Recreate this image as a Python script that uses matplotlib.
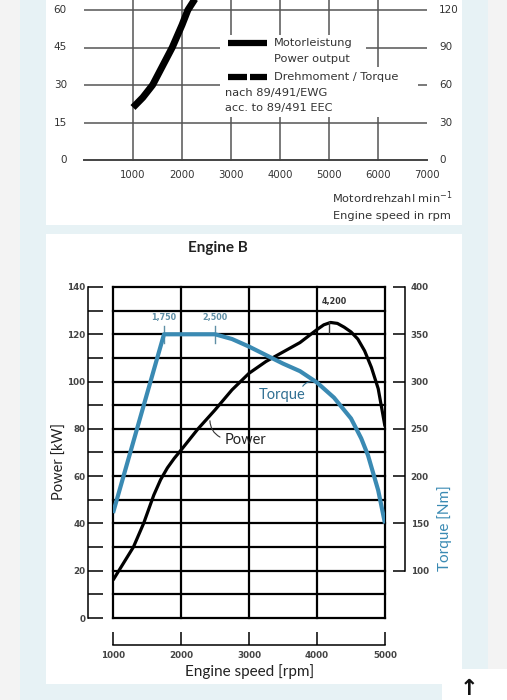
import matplotlib
matplotlib.use("Agg")
import matplotlib.pyplot as plt
from matplotlib.patches import Rectangle, FancyArrowPatch

# ---------------- data ----------------
# top (cropped) chart: power output curve
top_rpm = [1000, 1200, 1400, 1600, 1800, 2000, 2120, 2350]
top_kw = [21, 25, 30, 37.5, 45, 54, 60, 67]
top_xticks = [1000, 2000, 3000, 4000, 5000, 6000, 7000]
top_left_ticks = [0, 15, 30, 45, 60]
top_right_labels = ["0", "30", "60", "90", "120"]

# Engine B
power_rpm = [1000, 1150, 1300, 1450, 1600, 1700, 1800, 1900, 2000, 2250, 2500, 2750,
             3000, 3250, 3500, 3750, 4000, 4100, 4200, 4300, 4400, 4500, 4600,
             4700, 4800, 4900, 5000]
power_kw = [16, 23, 30, 40, 52, 58.5, 63.5, 67.5, 71, 80, 88, 96.5,
            103.5, 108.5, 112.5, 116.5, 122, 124, 125, 124.6, 123, 121, 118,
            113, 106, 97, 81]
torque_rpm = [1000, 1750, 2500, 2750, 3000, 3250, 3500, 3750, 4000, 4250,
              4500, 4650, 4750, 4900, 5000]
torque_nm = [161, 350, 350, 345, 337, 328, 319, 311, 299, 283,
             261, 240, 222, 185, 150]
b_xticks = [1000, 2000, 3000, 4000, 5000]
b_kw_major = [0, 20, 40, 60, 80, 100, 120, 140]
b_kw_minor = [10, 30, 50, 70, 90, 110, 130]
b_nm_ticks = [100, 150, 200, 250, 300, 350, 400]
peak_labels = [(1750, "1,750"), (2500, "2,500")]
power_peak = (4200, "4,200")

W, H = 507, 700
fig = plt.figure(figsize=(W / 100, H / 100), dpi=100)
fig.patch.set_facecolor("#f3f3f3")


def fx(x):
    return x / W


def fy(y):
    return 1 - y / H


def frect(x0, y0, x1, y1, color, z=0):
    fig.add_artist(Rectangle((fx(x0), fy(y1)), fx(x1) - fx(x0), fy(y0) - fy(y1),
                             transform=fig.transFigure, facecolor=color,
                             edgecolor="none", zorder=z))


# backgrounds
frect(20, 0, 488, 700, "#e7f2f5", z=-10)
frect(46, 0, 462, 225, "white", z=-9)
frect(46, 234, 462, 684, "white", z=-9)
frect(442, 669, 507, 700, "white", z=-8)
fig.text(fx(469), fy(689), "\u2191", fontsize=16, fontweight="bold",
         ha="center", va="center", color="#111111")

# ---------------- top chart ----------------
axt = fig.add_axes([fx(84), fy(160), fx(427) - fx(84), fy(0) - fy(160)])
axt.set_facecolor("none")
axt.set_xlim(0, 7000)
axt.set_ylim(0, 64)
for s in axt.spines.values():
    s.set_visible(False)
axt.set_xticks([])
axt.set_yticks([])
gcol = "#555555"
for xv in top_xticks[:-1]:
    axt.plot([xv, xv], [0, 64], color=gcol, lw=1.1, zorder=1, clip_on=False)
for yv in top_left_ticks[1:]:
    axt.plot([0, 7000], [yv, yv], color=gcol, lw=1.1, zorder=1)
axt.plot([0, 7000], [0, 0], color="#444444", lw=1.4, zorder=1, clip_on=False)
for yv, rl in zip(top_left_ticks, top_right_labels):
    axt.text(-350, yv, str(yv), ha="right", va="center", fontsize=7.5, color="#333333")
    axt.text(7250, yv, rl, ha="left", va="center", fontsize=7.5, color="#333333")
for xv in top_xticks:
    axt.text(xv, -6, str(xv), ha="center", va="center", fontsize=7.3, color="#333333")
# legend white areas
axt.add_patch(Rectangle((2776, 37.0), 5755 - 2776, 50 - 37.0, facecolor="white",
                        edgecolor="none", zorder=2))
axt.add_patch(Rectangle((2776, 17.2), 6816 - 2776, 37.2 - 17.2, facecolor="white",
                        edgecolor="none", zorder=2))
axt.plot([2939, 3735], [46.8, 46.8], color="black", lw=4.5, solid_capstyle="butt", zorder=3)
axt.plot([2939, 3330], [33.2, 33.2], color="black", lw=4.5, solid_capstyle="butt", zorder=3)
axt.plot([3390, 3735], [33.2, 33.2], color="black", lw=4.5, solid_capstyle="butt", zorder=3)
tk = dict(fontsize=8.2, color="#333333", va="center", ha="left", zorder=4)
axt.text(3878, 46.8, "Motorleistung", **tk)
axt.text(3878, 40.4, "Power output", **tk)
axt.text(3878, 33.2, "Drehmoment / Torque", **tk)
axt.text(2880, 26.8, "nach 89/491/EWG", **tk)
axt.text(2880, 20.8, "acc. to 89/491 EEC", **tk)
axt.plot(top_rpm, top_kw, color="black", lw=5, solid_capstyle="butt",
         solid_joinstyle="round", zorder=5)
fig.text(fx(452), fy(198), "Motordrehzahl min$^{-1}$", ha="right", va="center",
         fontsize=8.2, color="#333333")
fig.text(fx(451), fy(216), "Engine speed in rpm", ha="right", va="center",
         fontsize=8.2, color="#333333")

# ---------------- Engine B ----------------
blue = "#3a8ab3"
tick_col = "#444444"
fam = ["Lato", "DejaVu Sans"]
ax = fig.add_axes([fx(113), fy(618), fx(385) - fx(113), fy(287) - fy(618)])
ax.set_facecolor("none")
ax.set_xlim(1000, 5000)
ax.set_ylim(0, 140)
glw = 1.6
for yv in range(0, 141, 10):
    ax.plot([1000, 5000], [yv, yv], color="black", lw=glw, zorder=1, clip_on=False,
            solid_capstyle="projecting")
for xv in b_xticks:
    ax.plot([xv, xv], [0, 140], color="black", lw=glw, zorder=1, clip_on=False,
            solid_capstyle="projecting")
ax.spines["top"].set_visible(False)
ax.spines["right"].set_visible(False)
ax.spines["left"].set_position(("outward", 18))
ax.spines["bottom"].set_position(("outward", 19.4))
ax.spines["left"].set_linewidth(1.1)
ax.spines["bottom"].set_linewidth(1.1)
ax.set_xticks(b_xticks)
ax.set_xticklabels([str(v) for v in b_xticks])
ax.set_yticks(b_kw_major)
ax.set_yticks(b_kw_minor, minor=True)
ax.tick_params(axis="x", direction="in", length=9.4, width=1.1, pad=4,
               labelsize=6.3, labelcolor=tick_col)
ax.tick_params(axis="y", which="both", direction="in", length=10.8, width=1.1,
               pad=2, labelsize=6.3, labelcolor=tick_col)
for lab in ax.get_xticklabels() + ax.get_yticklabels():
    lab.set_fontfamily("DejaVu Sans")
    lab.set_fontweight("bold")

ax.plot(power_rpm, power_kw, color="black", lw=2.3, zorder=4, solid_capstyle="butt",
        solid_joinstyle="round")

ax2 = ax.twinx()
ax2.set_ylim(50, 400)
ax2.set_xlim(1000, 5000)
for k in ["top", "left", "bottom"]:
    ax2.spines[k].set_visible(False)
ax2.spines["right"].set_position(("outward", 14.4))
ax2.spines["right"].set_bounds(100, 400)
ax2.spines["right"].set_linewidth(1.1)
ax2.set_yticks(b_nm_ticks)
ax2.tick_params(axis="y", direction="in", length=8.6, width=1.1, pad=4,
                labelsize=6.3, labelcolor=tick_col)
for lab in ax2.get_yticklabels():
    lab.set_fontfamily("DejaVu Sans")
    lab.set_fontweight("bold")
ax2.plot(torque_rpm, torque_nm, color=blue, lw=3.0, zorder=3, solid_capstyle="butt",
         solid_joinstyle="round")

# annotations
for xv, txt in peak_labels:
    ax.plot([xv, xv], [116.3, 123.3], color="#5f8fa6", lw=1.0, zorder=5)
    ax.text(xv, 126.9, txt, ha="center", va="center", fontsize=5.8, fontweight="bold",
            color="#5f8fa6", family="DejaVu Sans")
ax.plot([power_peak[0] - 30, power_peak[0] - 30], [120.5, 125.2], color="#333333", lw=1.0, zorder=5)
ax.text(power_peak[0] + 60, 133.7, power_peak[1], ha="center", va="center", fontsize=5.8,
        fontweight="bold", color="#333333", family="DejaVu Sans")
ax.text(2640, 75.3, "Power", ha="left", va="center", fontsize=10.5, color="#222222",
        family=fam, zorder=6)
ax.add_patch(FancyArrowPatch((2426, 84.6), (2610, 76.0), connectionstyle="arc3,rad=0.35",
                             arrowstyle="-", color="#333333", lw=0.8, zorder=6))
ax.text(3140, 94.3, "Torque", ha="left", va="center", fontsize=10.5, color="#2f6f92",
        family=fam, zorder=6)
ax.add_patch(FancyArrowPatch((3770, 97.0), (3975, 99.8), connectionstyle="arc3,rad=-0.4",
                             arrowstyle="-", color="#2f6f92", lw=0.8, zorder=6))

fig.text(fx(218), fy(248), "Engine B", ha="center", va="center", fontsize=11,
         fontweight="bold", color="#222222", family=fam)
fig.text(fx(250), fy(672), "Engine speed [rpm]", ha="center", va="center",
         fontsize=11, color="#222222", family=fam)
fig.text(fx(60), fy(461), "Power [kW]", ha="center", va="center", rotation=90,
         fontsize=10.5, color="#222222", family=fam)
fig.text(fx(445), fy(528), "Torque [Nm]", ha="center", va="center", rotation=90,
         fontsize=11, color=blue, family=fam)

fig.savefig("out.png", dpi=100, facecolor=fig.get_facecolor())
